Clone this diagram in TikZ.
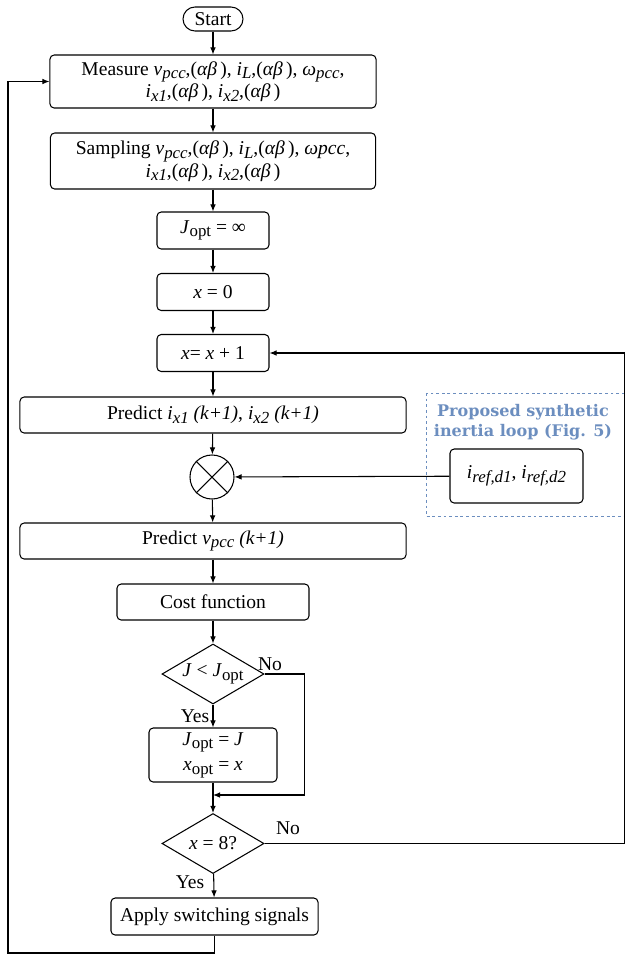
\documentclass[tikz,border=0pt]{standalone}
\usepackage{fontspec}
\setmainfont{Liberation Serif}
\newfontfamily\loopfont{DejaVu Serif}
\usetikzlibrary{arrows.meta,shapes.geometric}
\definecolor{loopblue}{HTML}{6C8EBF}
% italic symbol with a lowered index
\newcommand{\idx}[1]{\raisebox{-0.4ex}{\fontsize{12}{12}\selectfont #1}}
\newcommand{\ab}{(\textit{αβ}\,)}

\begin{document}
\begin{tikzpicture}[>={Latex[length=5pt,width=4pt]},x=0.025cm,y=-0.025cm,line width=0.75pt,
    font=\fontsize{13.9}{16}\selectfont,
    box/.style={draw,rounded corners=3pt,align=center,inner sep=0pt},
    decision/.style={draw,diamond,inner sep=0pt,minimum width=2.55cm,minimum height=1.5cm}]
  \useasboundingbox (0,0) rectangle (626,956);
  % main column
  \node[box,rounded corners=0.3cm,minimum width=1.5cm,minimum height=0.6cm] (start) at (213,19) {Start};
  \node[box,minimum width=8.15cm,minimum height=1.325cm] (meas) at (213,81.5)
    {Measure \textit{v}\idx{\textit{pcc}},\ab, \textit{i}\idx{\textit{L}},\ab, \textit{ω}\idx{\textit{pcc}},\\
     \textit{i}\idx{\textit{x1}},\ab, \textit{i}\idx{\textit{x2}},\ab};
  \node[box,minimum width=8.125cm,minimum height=1.4cm] (samp) at (213,161)
    {Sampling \textit{v}\idx{\textit{pcc}},\ab, \textit{i}\idx{\textit{L}},\ab, \textit{ωpcc},\\
     \textit{i}\idx{\textit{x1}},\ab, \textit{i}\idx{\textit{x2}},\ab};
  \node[box,minimum width=2.8cm,minimum height=0.925cm] (jinit) at (213,230.5) {\textit{J}\idx{opt} = ∞};
  \node[box,minimum width=2.8cm,minimum height=0.925cm] (xzero) at (213,292) {\textit{x} = 0};
  \node[box,minimum width=2.8cm,minimum height=0.925cm] (xinc) at (213,353) {\textit{x}= \textit{x} + 1};
  \node[box,minimum width=9.65cm,minimum height=0.9cm] (predi) at (213,415)
    {Predict \textit{i}\idx{\textit{x1}} \textit{(k+1)}, \textit{i}\idx{\textit{x2}} \textit{(k+1)}};
  \node[draw,circle,inner sep=0pt,minimum size=1.1cm] (mult) at (212,477) {};
  \draw (mult.45) -- (mult.225) (mult.135) -- (mult.-45);
  \node[box,minimum width=9.65cm,minimum height=0.9cm] (predv) at (213,541)
    {Predict \textit{v}\idx{\textit{pcc}} \textit{(k+1)}};
  \node[box,minimum width=4.8cm,minimum height=0.9cm] (cost) at (213,602) {Cost function};
  \node[decision] (dec1) at (213,674) {\makebox[0pt]{\textit{J} < \textit{J}\idx{opt}}};
  \node[box,minimum width=3.2cm,minimum height=1.35cm] (upd) at (213,755)
    {\textit{J}\idx{opt} = \textit{J}\\[2pt] \textit{x}\idx{opt} = \textit{x}};
  \node[decision] (dec2) at (213,843.5) {\makebox[0pt]{\textit{x} = 8?}};
  \node[box,minimum width=5.175cm,minimum height=0.925cm] (apply) at (214.5,916.5) {Apply switching signals};
  % synthetic inertia loop
  \draw[loopblue,line width=0.6pt,dash pattern=on 2pt off 2pt] (426,393) rectangle (624.5,516);
  \node[loopblue,align=center,font=\loopfont\bfseries\fontsize{11.4}{14}\selectfont] (looptitle) at (523,422)
    {Proposed synthetic\\ inertia loop (Fig. 5)};
  \node[box,minimum width=3.325cm,minimum height=1.35cm] (iref) at (516.5,476)
    {\textit{i}\idx{\textit{ref,d1}}, \textit{i}\idx{\textit{ref,d2}}};
  % connectors
  \draw[->] (start) -- (meas);
  \draw[->] (meas) -- (samp);
  \draw[->] (samp) -- (jinit);
  \draw[->] (jinit) -- (xzero);
  \draw[->] (xzero) -- (xinc);
  \draw[->] (xinc) -- (predi);
  \draw[->] (predi) -- (mult);
  \draw[->] (iref) -- (mult);
  \draw[->] (mult) -- (predv);
  \draw[->] (predv) -- (cost);
  \draw[->] (cost) -- (dec1);
  \draw[->] (dec1) -- (upd);
  \draw[->] (upd) -- (dec2);
  \draw[->] (dec2) -- (apply);
  \coordinate (merge) at (213,795);
  \draw[->] (dec1.east) -- ++(40,0) |- (merge);
  \coordinate (rail) at (624.5,353);
  \draw[->] (dec2.east) -| (rail) -- (xinc.east);
  \coordinate (back) at (8,953);
  \draw[->] (apply.south) |- (back) |- (meas.west);
  % branch labels
  \node (no1) at (270,664) {No};
  \node (yes1) at (195,716) {Yes};
  \node (no2) at (288,828) {No};
  \node (yes2) at (190,882) {Yes};
\end{tikzpicture}
\end{document}
